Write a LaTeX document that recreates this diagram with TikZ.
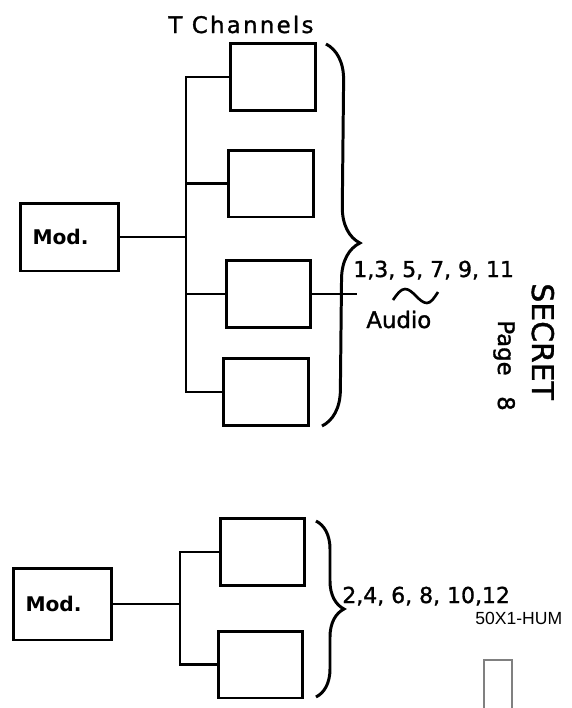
\documentclass[tikz,border=0pt]{standalone}
\usepackage{fontspec}
\setmainfont{DejaVu Sans}
\newfontfamily\hand[FakeBold=1.3]{DejaVu Sans}
\newfontfamily\stampfont{Liberation Sans}
\usetikzlibrary{positioning, decorations.pathreplacing}
\tikzset{
  chbox/.style={draw, line width=1.7pt, minimum width=1.7cm, minimum height=1.34cm},
  modbox/.style={draw, line width=1.7pt, text width=1.48cm, inner xsep=0.24cm, align=left, font=\bfseries\fontsize{11.5}{13}\selectfont},
  wire/.style={line width=1.5pt},
  brc/.style={decorate, decoration={brace, amplitude=#1}, line width=1.7pt},
  lbl/.style={inner sep=0pt, anchor=base west, font=\hand\fontsize{#1}{#1}\selectfont},
}

\begin{document}
\begin{tikzpicture}[x=0.02cm, y=-0.02cm]
    \useasboundingbox (0,0) rectangle (572,708);
    % upper group: one modulator, four channels
    \node[modbox, minimum height=1.36cm] (modA) at (69.5,237) {Mod.};
    \node[chbox] (c1) at (273,77) {};
    \node[chbox] (c2) at (271,183.5) {};
    \node[chbox] (c3) at (268.5,294) {};
    \node[chbox] (c4) at (266,392) {};
    \coordinate (jA) at (186,237);
    \coordinate (aud) at (357,294);
    \draw[wire] (modA.east) -- (jA);
    \draw[wire] (c1.west) -| (jA) |- (c4.west);
    \draw[wire] (c2.west) -- (c2.west -| jA);
    \draw[wire] (c3.west) -- (c3.west -| jA);
    \draw[wire] (c3.east) -- (aud);
    \coordinate (bt) at (326,44);
    \coordinate (bb) at (322,426);
    \draw[brc=0.72cm, decoration={aspect=0.52}] (bt) -- (bb);
    \node[lbl=13] (title) at (168,33) {\addfontfeature{LetterSpace=10}T Channels};
    \node[lbl=12.5] (odd) at (353,277) {1,3, 5, 7, 9, 11};
    \node[lbl=13] (audio) at (366,328) {Audio};
    \draw[line width=1.5pt] (393,300) sin (405,289) cos (416,296) sin (427,303) cos (438,292);
    \node[lbl=17, rotate=-90] (secret) at (532,283) {SECRET};
    \node[lbl=13, rotate=-90] (page) at (498,320) {Page\hspace{0.9em}8};

    % lower group: one modulator, two channels
    \node[modbox, minimum height=1.44cm] (modB) at (62.5,604) {Mod.};
    \node[chbox] (c5) at (262.5,552) {};
    \node[chbox] (c6) at (260.5,664.5) {};
    \coordinate (jB) at (180,604);
    \draw[wire] (modB.east) -- (jB);
    \draw[wire] (c5.west) -| (jB) |- (c6.west);
    \coordinate (bt2) at (316,521);
    \coordinate (bb2) at (316,697);
    \draw[brc=0.56cm] (bt2) -- (bb2);
    \node[lbl=12.5] (even) at (342,603) {2,4, 6, 8, 10,12};
    \node[inner sep=0pt, anchor=base west, font=\stampfont\fontsize{10}{10}\selectfont] (stamp) at (475,624) {50X1-HUM};
    \draw[gray, line width=0.6pt] (484,708) |- (512,660) -- (512,708);
\end{tikzpicture}
\end{document}
